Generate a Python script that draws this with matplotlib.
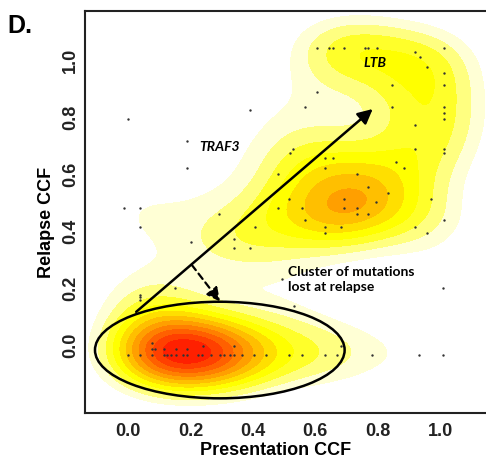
import numpy as np
import matplotlib
matplotlib.use("Agg")
import matplotlib.pyplot as plt
from matplotlib.patches import Ellipse

# mutation cancer cell fractions (presentation, relapse)
pres_ccf = [
    # upper band / LTB region
    0.605, 0.645, 0.656, 0.693, 0.760, 0.770, 0.797, 1.011,
    0.920, 0.934, 0.959, 1.011, 0.845, 1.011, 0.605,
    0.567, 0.845, 1.011, 0.390, 1.011, 0.000, 1.011, 0.920, 0.188,
    0.920, 1.011, 0.530, 1.011, 0.519, 0.631, 0.658, 0.858,
    0.631, 0.885, 0.188, 0.733, 0.481, 0.770, 0.832,
    0.693, 0.517, 0.971, 0.795,
    0.693, 0.733, 0.557, 0.481, -0.012, 0.038,
    0.733, 0.770, 0.290, 0.567, 1.011,
    0.631, 0.682, 0.920, 0.406, 0.038, 0.631, 0.959,
    0.341, 0.202, 0.341, 0.391, 0.493, 1.010, 0.151,
    0.038, 0.038, 0.038, 0.531,
    # lost at relapse
    0.076, 0.240, 0.340, 0.682,
    0.076, 0.087, 0.115, 0.154, 0.190,
    0.001, 0.038, 0.076, 0.115, 0.126, 0.137, 0.154, 0.177, 0.190,
    0.225, 0.238, 0.265, 0.295, 0.306, 0.327, 0.338, 0.366, 0.404,
    0.442, 0.517, 0.557, 0.631, 0.669, 0.783, 0.933, 1.010,
]
rel_ccf = [
    1.041, 1.041, 1.041, 1.041, 1.041, 1.041, 1.041, 1.041,
    1.029, 1.009, 0.977, 0.955, 0.912, 0.912, 0.889,
    0.836, 0.836, 0.836, 0.825, 0.815, 0.793, 0.792, 0.772, 0.717,
    0.687, 0.687, 0.687, 0.675, 0.675, 0.655, 0.655, 0.642,
    0.620, 0.620, 0.620, 0.600, 0.600, 0.555, 0.534,
    0.512, 0.512, 0.512, 0.502,
    0.480, 0.480, 0.480, 0.480, 0.480, 0.480,
    0.460, 0.460, 0.460, 0.438, 0.438,
    0.415, 0.415, 0.415, 0.415, 0.415, 0.394, 0.394,
    0.372, 0.360, 0.339, 0.339, 0.232, 0.201, 0.199,
    0.175, 0.167, 0.158, 0.137,
    0.006, -0.004, -0.004, -0.004,
    -0.015, -0.015, -0.015, -0.015, -0.015,
    -0.035, -0.035, -0.035, -0.035, -0.035, -0.035, -0.035, -0.035, -0.035,
    -0.035, -0.035, -0.035, -0.035, -0.035, -0.035, -0.035, -0.035, -0.035,
    -0.035, -0.035, -0.035, -0.035, -0.035, -0.035, -0.035, -0.035,
]

ticks = [0.0, 0.2, 0.4, 0.6, 0.8, 1.0]
tick_labels = ["0.0", "0.2", "0.4", "0.6", "0.8", "1.0"]

# reversed heat.colors, white below the lowest level
dens_colors = ["#FFFFFF", "#FFFFD5", "#FFFF80", "#FFFF2A", "#FFFF00", "#FFDF00",
               "#FFBF00", "#FF9F00", "#FF8000", "#FF6000", "#FF4000", "#FF2000"]

x = np.array(pres_ccf)
y = np.array(rel_ccf)
xlim = (-0.138, 1.147)
ylim = (-0.239, 1.172)

# 2d gaussian kde on a grid
sx, sy = 0.13, 0.10
gx = np.linspace(*xlim, 300)
gy = np.linspace(*ylim, 300)
xx, yy = np.meshgrid(gx, gy)
z = np.zeros_like(xx)
for xi, yi in zip(x, y):
    z += np.exp(-0.5 * (((xx - xi) / sx) ** 2 + ((yy - yi) / sy) ** 2))
zmax = z.max() * 1.001
levels = np.concatenate([[0], np.linspace(0.18 * zmax, zmax, len(dens_colors))])

fig = plt.figure(figsize=(4.86, 4.59), dpi=100)
ax = fig.add_axes([85 / 486, 1 - 413 / 459, 1 - 85 / 486, 402 / 459])
ax.contourf(xx, yy, z, levels=levels, colors=dens_colors)
ax.scatter(x, y, s=3, color="#333333", zorder=3, linewidths=0)

ax.add_patch(Ellipse((0.294, -0.018), 0.80, 0.339, fill=False, lw=1.8,
                     color="black", zorder=4))
ax.annotate("", xy=(0.784, 0.828), xytext=(0.026, 0.116),
            arrowprops=dict(arrowstyle="-|>", lw=1.8, color="black",
                            mutation_scale=22, shrinkA=0, shrinkB=0), zorder=5)
ax.annotate("", xy=(0.295, 0.152), xytext=(0.204, 0.281),
            arrowprops=dict(arrowstyle="-|>", lw=1.6, color="black", ls=(0, (3, 2)),
                            mutation_scale=20, shrinkA=0, shrinkB=0), zorder=5)

ax.text(0.292, 0.696, "TRAF3", fontsize=10, fontweight="bold", style="italic",
        family="Lato", ha="center", va="center")
ax.text(0.792, 0.99, "LTB", fontsize=10, fontweight="bold", style="italic",
        family="Lato", ha="center", va="center")
ax.text(0.511, 0.23, "Cluster of mutations\nlost at relapse", fontsize=10,
        fontweight="bold", family="Lato", ha="left", va="center", linespacing=1.35)

ax.set_xlim(xlim)
ax.set_ylim(ylim)
ax.set_xticks(ticks)
ax.set_xticklabels(tick_labels, fontsize=13, fontweight="bold", family="Liberation Sans",
                   color="#222222")
ax.set_yticks(ticks)
ax.set_yticklabels(tick_labels, fontsize=13, fontweight="bold", family="Liberation Sans",
                   color="#222222", rotation=90, va="center")
ax.tick_params(axis="x", length=0, pad=7)
ax.tick_params(axis="y", length=0, pad=4.5)

ax.set_xlabel("Presentation CCF", fontsize=13, fontweight="bold", family="Liberation Sans")
ax.set_ylabel("Relapse CCF", fontsize=13, fontweight="bold", family="Liberation Sans")
ax.xaxis.set_label_coords(0.476, -0.072)
ax.yaxis.set_label_coords(-0.076, 0.473)

for side in ["left", "bottom", "top"]:
    ax.spines[side].set_linewidth(1.5)
    ax.spines[side].set_color("#222222")
ax.spines["right"].set_visible(False)

fig.text(7 / 486, 1 - 33 / 459, "D.", fontsize=18, fontweight="bold",
         family="Liberation Sans", ha="left", va="baseline")

fig.savefig("out.png", dpi=100)
